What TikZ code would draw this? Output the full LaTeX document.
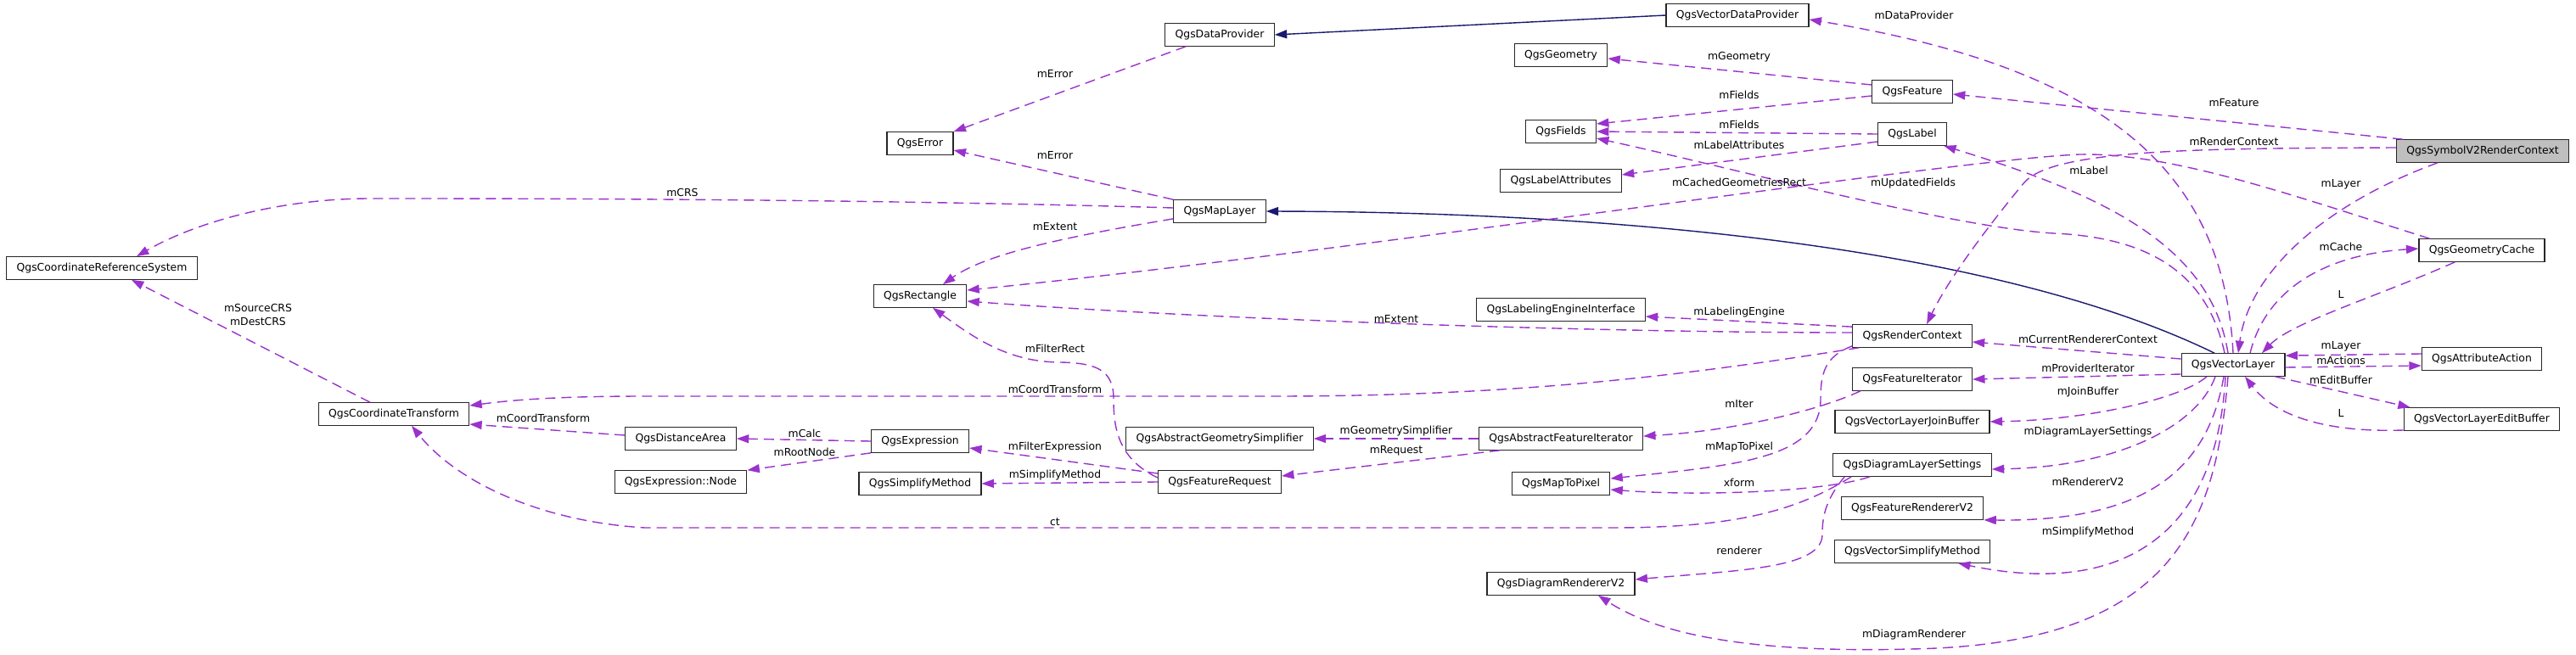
\documentclass[tikz,border=0pt]{standalone}
\usepackage{fontspec}
\setmainfont{DejaVu Sans}
\usetikzlibrary{arrows.meta,calc}
\definecolor{edgepurple}{HTML}{9A32CD}
\definecolor{inhblue}{HTML}{191970}
\definecolor{basegray}{HTML}{BFBFBF}

\begin{document}
\begin{tikzpicture}[x=0.5pt, y=-0.5pt, >={Triangle[length=7.2pt,width=5pt]},
	font=\fontsize{6.2pt}{8pt}\selectfont,
	cls/.style={draw=black!85, line width=0.6pt, fill=white, minimum height=13.25pt, inner xsep=5.9pt, inner ysep=0pt},
	clsbase/.style={cls, fill=basegray},
	member/.style={->, draw=edgepurple, line width=0.7pt, dash pattern=on 6pt off 3.5pt},
	inherit/.style={->, draw=inhblue, line width=0.7pt},
	edgelab/.style={inner sep=0pt, align=center}]
	
	% 1. Page (pixel units, y downwards)
	\def\pw{3035}
	\def\ph{771}
	\useasboundingbox (0,0) rectangle (\pw,\ph);
	\fill[white] (0,0) rectangle (\pw,\ph);
	
	% 2. Classes, column by column
	\node[cls] (crs) at (120,316) {QgsCoordinateReferenceSystem};
	\node[cls] (ct) at (464,488) {QgsCoordinateTransform};
	\node[cls] (dist) at (802,517) {QgsDistanceArea};
	\node[cls] (exnode) at (802,568) {QgsExpression::Node};
	\node[cls] (err) at (1084,169) {QgsError};
	\node[cls] (rect) at (1084,349) {QgsRectangle};
	\node[cls] (expr) at (1084,520) {QgsExpression};
	\node[cls] (smeth) at (1084,570) {QgsSimplifyMethod};
	\node[cls] (dprov) at (1437,41) {QgsDataProvider};
	\node[cls] (mlayer) at (1437,249) {QgsMapLayer};
	\node[cls] (agsimp) at (1437,517) {QgsAbstractGeometrySimplifier};
	\node[cls] (freq) at (1437,568) {QgsFeatureRequest};
	\node[cls] (geom) at (1839,65) {QgsGeometry};
	\node[cls] (fields) at (1839,155) {QgsFields};
	\node[cls] (lattr) at (1839,213) {QgsLabelAttributes};
	\node[cls] (leng) at (1839,365) {QgsLabelingEngineInterface};
	\node[cls] (afit) at (1839,517) {QgsAbstractFeatureIterator};
	\node[cls] (m2p) at (1839,570) {QgsMapToPixel};
	\node[cls] (drend) at (1839,688) {QgsDiagramRendererV2};
	\node[cls] (vdprov) at (2047,18) {QgsVectorDataProvider};
	\node[cls] (feat) at (2253,108) {QgsFeature};
	\node[cls] (qlabel) at (2253,158) {QgsLabel};
	\node[cls] (rctx) at (2253,396) {QgsRenderContext};
	\node[cls] (fit) at (2253,447) {QgsFeatureIterator};
	\node[cls] (jbuf) at (2253,497) {QgsVectorLayerJoinBuffer};
	\node[cls] (dls) at (2253,548) {QgsDiagramLayerSettings};
	\node[cls] (frend) at (2253,599) {QgsFeatureRendererV2};
	\node[cls] (vsm) at (2253,650) {QgsVectorSimplifyMethod};
	\node[cls] (vlayer) at (2631,430) {QgsVectorLayer};
	\node[clsbase] (src) at (2925,178) {QgsSymbolV2RenderContext};
	\node[cls] (gcache) at (2924,295) {QgsGeometryCache};
	\node[cls] (aact) at (2924,423) {QgsAttributeAction};
	\node[cls] (ebuf) at (2924,494) {QgsVectorLayerEditBuffer};
	
	% 3. Inheritance
	\draw[inherit] (vdprov.west) -- (dprov.east);
	\draw[inherit] ($(vlayer.north)+(-22,0)$) .. controls (2350,290) and (1900,250) .. (mlayer.east);
	
	% 4. Members, left part
	\draw[member] ($(dprov.south)+(-40,0)$) -- (err.north east);
	\draw[member] (mlayer.north west) -- ($(err.east)+(0,8)$);
	\draw[member] ($(mlayer.west)+(0,-4)$) .. controls (1000,234) and (600,234) .. (436,234)
		.. controls (330,234) and (230,262) .. ($(crs.north)+(41,0)$);
	\draw[member] ($(mlayer.south west)+(0,-5)$) .. controls (1250,280) and (1160,300) .. ($(rect.north)+(27,0)$);
	\draw[member] ($(gcache.north west)+(13,0)$) .. controls (2700,230) and (2560,180) .. (2450,182)
		.. controls (2300,188) and (1600,296) .. ($(rect.east)+(0,-7)$);
	\draw[member] ($(rctx.west)+(0,-4)$) .. controls (1900,392) and (1450,378) .. ($(rect.east)+(0,6)$);
	\draw[member] ($(freq.west)+(0,-5)$) .. controls (1315,540) and (1312,500) .. (1312,470)
		.. controls (1312,435) and (1290,428) .. (1250,427)
		.. controls (1190,427) and (1150,400) .. ($(rect.south)+(15,0)$);
	\draw[member] ($(rctx.south west)+(8,0)$) .. controls (2000,440) and (1800,467) .. (1500,467) -- (760,467)
		.. controls (650,467) and (600,472) .. ($(ct.east)+(0,-10)$);
	\draw[member] ($(dist.west)+(0,-4)$) -- ($(ct.east)+(0,12)$);
	\draw[member] ($(ct.north)+(-28,0)$) -- ($(crs.south)+(35,0)$);
	\draw[member] (expr.west) -- (dist.east);
	\draw[member] (expr.south west) -- (exnode.north east);
	\draw[member] ($(freq.west)+(0,-10)$) -- ($(expr.east)+(0,8)$);
	\draw[member] (freq.west) -- (smeth.east);
	\draw[member] ($(dls.south west)+(22,0)$) .. controls (2120,600) and (2050,622) .. (1900,622) -- (760,622)
		.. controls (640,615) and (540,570) .. ($(ct.south)+(21,0)$);
	
	% 5. Members, middle part
	\draw[member] (afit.west) -- (agsimp.east);
	\draw[member] ($(afit.south west)+(25,0)$) -- ($(freq.east)+(0,-7)$);
	\draw[member] ($(fit.south west)+(10,0)$) .. controls (2140,485) and (2040,508) .. ($(afit.east)+(0,-3)$);
	\draw[member] ($(rctx.south west)+(0,-2)$) .. controls (2150,420) and (2145,440) .. (2145,470)
		.. controls (2145,540) and (2050,548) .. ($(m2p.east)+(0,-6)$);
	\draw[member] ($(dls.south)+(-50,0)$) .. controls (2150,580) and (2000,585) .. ($(m2p.east)+(0,7)$);
	\draw[member] ($(dls.south west)+(14,0)$) .. controls (2150,590) and (2147,610) .. (2147,630)
		.. controls (2147,670) and (2050,672) .. ($(drend.east)+(0,-5)$);
	\draw[member] ($(rctx.north west)+(0,3)$) -- ($(leng.east)+(0,8)$);
	\draw[member] (qlabel.west) -- (fields.east);
	\draw[member] ($(qlabel.west)+(0,9)$) -- ($(lattr.east)+(0,-7)$);
	\draw[member] ($(feat.west)+(0,5)$) -- ($(fields.east)+(0,-9)$);
	\draw[member] ($(feat.west)+(0,-8)$) -- ($(geom.east)+(0,4)$);
	
	% 6. Members of QgsVectorLayer
	\draw[member] ($(vlayer.south)+(-6,0)$) .. controls (2610,620) and (2560,760) .. (2250,765)
		.. controls (2050,770) and (1950,745) .. ($(drend.south)+(44,0)$);
	\draw[member] ($(vlayer.west)+(0,-7)$) -- ($(rctx.east)+(0,7)$);
	\draw[member] ($(vlayer.west)+(0,11)$) -- (fit.east);
	\draw[member] ($(vlayer.south)+(-31,0)$) .. controls (2570,470) and (2460,495) .. (jbuf.east);
	\draw[member] ($(vlayer.south)+(-21,0)$) .. controls (2590,500) and (2500,550) .. ($(dls.east)+(0,5)$);
	\draw[member] ($(vlayer.south)+(-11,0)$) .. controls (2600,560) and (2520,615) .. (frend.south east);
	\draw[member] ($(vlayer.south)+(-9,0)$) .. controls (2610,650) and (2480,700) .. ($(vsm.south)+(54,0)$);
	\draw[member] ($(vlayer.east)+(0,3)$) -- ($(aact.west)+(0,8)$);
	\draw[member] ($(aact.west)+(0,-6)$) -- ($(vlayer.north east)+(0,3)$);
	\draw[member] ($(vlayer.south east)+(-12,0)$) -- ($(ebuf.north west)+(8,0)$);
	\draw[member] ($(ebuf.west)+(0,13)$) .. controls (2740,510) and (2680,490) .. ($(vlayer.south)+(14,0)$);
	\draw[member] ($(gcache.south west)+(43,0)$) .. controls (2800,350) and (2700,380) .. ($(vlayer.north)+(34,0)$);
	\draw[member] ($(vlayer.north)+(20,0)$) .. controls (2670,340) and (2740,300) .. ($(gcache.west)+(0,-2)$);
	\draw[member] ($(vlayer.north)+(-6,0)$) .. controls (2605,290) and (2480,230) .. ($(qlabel.south east)+(-4,0)$);
	\draw[member] ($(vlayer.north)+(-10,0)$) .. controls (2600,320) and (2530,280) .. (2420,275)
		.. controls (2300,268) and (2050,200) .. ($(fields.east)+(0,8)$);
	\draw[member] (vlayer.north) .. controls (2620,200) and (2480,80) .. ($(vdprov.east)+(0,5)$);
	
	% 7. Members of QgsSymbolV2RenderContext
	\draw[member] ($(src.south)+(-53,0)$) .. controls (2740,240) and (2650,320) .. ($(vlayer.north)+(6,0)$);
	\draw[member] ($(src.north west)+(8,0)$) -- ($(feat.east)+(0,3)$);
	\draw[member] ($(src.west)+(0,-4)$) .. controls (2600,175) and (2420,175) .. (2385,215)
		.. controls (2360,245) and (2300,320) .. ($(rctx.north)+(17,0)$);
	
	% 8. Edge labels
	\node[edgelab] (l-crs) at (804,227) {mCRS};
	\node[edgelab] (l-src-crs) at (304,371) {mSourceCRS\\mDestCRS};
	\node[edgelab] (l-ct1) at (640,493) {mCoordTransform};
	\node[edgelab] (l-calc) at (948,511) {mCalc};
	\node[edgelab] (l-root) at (948,533) {mRootNode};
	\node[edgelab] (l-err1) at (1243,87) {mError};
	\node[edgelab] (l-err2) at (1243,183) {mError};
	\node[edgelab] (l-ext1) at (1243,267) {mExtent};
	\node[edgelab] (l-frect) at (1243,411) {mFilterRect};
	\node[edgelab] (l-ct2) at (1243,459) {mCoordTransform};
	\node[edgelab] (l-fexpr) at (1243,527) {mFilterExpression};
	\node[edgelab] (l-smeth1) at (1243,560) {mSimplifyMethod};
	\node[edgelab] (l-ct3) at (1243,615) {ct};
	\node[edgelab] (l-ext2) at (1645,376) {mExtent};
	\node[edgelab] (l-gsimp) at (1645,508) {mGeometrySimplifier};
	\node[edgelab] (l-req) at (1645,531) {mRequest};
	\node[edgelab] (l-geom) at (2049,67) {mGeometry};
	\node[edgelab] (l-fld1) at (2049,112) {mFields};
	\node[edgelab] (l-fld2) at (2049,147) {mFields};
	\node[edgelab] (l-lattr) at (2049,171) {mLabelAttributes};
	\node[edgelab] (l-cgr) at (2049,215) {mCachedGeometriesRect};
	\node[edgelab] (l-leng) at (2049,368) {mLabelingEngine};
	\node[edgelab] (l-iter) at (2049,476) {mIter};
	\node[edgelab] (l-m2p) at (2049,527) {mMapToPixel};
	\node[edgelab] (l-xform) at (2049,569) {xform};
	\node[edgelab] (l-rend) at (2049,649) {renderer};
	\node[edgelab] (l-dprov) at (2255,18) {mDataProvider};
	\node[edgelab] (l-ufld) at (2254,216) {mUpdatedFields};
	\node[edgelab] (l-drend) at (2255,748) {mDiagramRenderer};
	\node[edgelab] (l-label) at (2461,201) {mLabel};
	\node[edgelab] (l-crc) at (2460,400) {mCurrentRendererContext};
	\node[edgelab] (l-pit) at (2460,434) {mProviderIterator};
	\node[edgelab] (l-jbuf) at (2460,462) {mJoinBuffer};
	\node[edgelab] (l-dls) at (2460,509) {mDiagramLayerSettings};
	\node[edgelab] (l-rv2) at (2460,568) {mRendererV2};
	\node[edgelab] (l-smeth2) at (2460,627) {mSimplifyMethod};
	\node[edgelab] (l-feat) at (2632,121) {mFeature};
	\node[edgelab] (l-rctx) at (2632,167) {mRenderContext};
	\node[edgelab] (l-lay1) at (2758,217) {mLayer};
	\node[edgelab] (l-cache) at (2758,291) {mCache};
	\node[edgelab] (l-L1) at (2758,347) {L};
	\node[edgelab] (l-lay2) at (2758,408) {mLayer};
	\node[edgelab] (l-act) at (2758,425) {mActions};
	\node[edgelab] (l-ebuf) at (2758,448) {mEditBuffer};
	\node[edgelab] (l-L2) at (2758,487) {L};
	
\end{tikzpicture}
\end{document}
